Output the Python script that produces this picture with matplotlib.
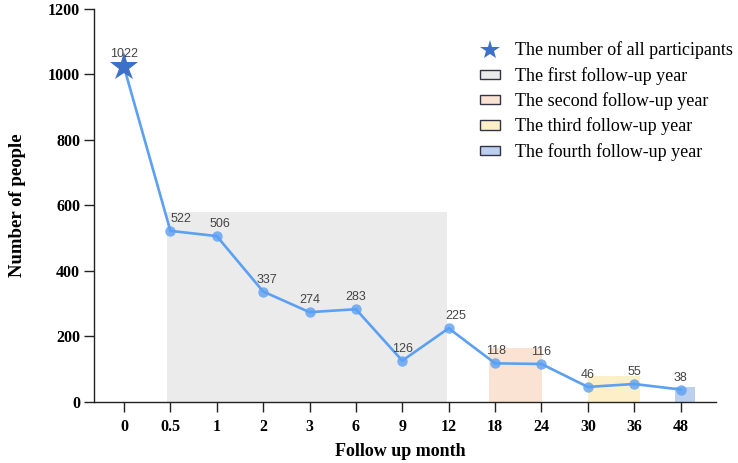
import matplotlib
matplotlib.use("Agg")
import matplotlib.pyplot as plt
from matplotlib.patches import Patch
from matplotlib.lines import Line2D

months = ["0", "0.5", "1", "2", "3", "6", "9", "12", "18", "24", "30", "36", "48"]
people = [1022, 522, 506, 337, 274, 283, 126, 225, 118, 116, 46, 55, 38]
label_dx = [0, 11, 3, 4, 0, 0, 0, 7, 1, 0, 0, 0, 0]

year_names = ["The first follow-up year", "The second follow-up year",
              "The third follow-up year", "The fourth follow-up year"]
year_start = [0.93, 7.87, 10.0, 11.87]
year_end = [6.96, 9.02, 11.12, 12.32]
year_height = [580, 165, 78, 46]
year_colors = ["#ebebeb", "#fbe3d4", "#fdf0c8", "#bccfee"]

serif = ["Liberation Serif", "DejaVu Serif"]
sans = ["Liberation Sans", "DejaVu Sans"]

fig = plt.figure(figsize=(7.38, 4.63), dpi=100)
ax = fig.add_axes([0.1274, 0.1317, 0.8426, 0.8499])

for s, e, h, c in zip(year_start, year_end, year_height, year_colors):
    ax.bar((s + e) / 2, h, width=e - s, color=c, zorder=1, linewidth=0)

x = list(range(len(months)))
ax.plot(x, people, color="#5ba0f2", linewidth=1.9, zorder=3)
ax.plot(x[1:], people[1:], "o", color="#5ba0f2", alpha=0.8, markersize=7.5,
        markeredgewidth=0, zorder=4)
ax.plot(x[0], people[0], "*", color="#3d70c9", markersize=21, zorder=5,
        markeredgewidth=0)

for i, (xi, v) in enumerate(zip(x, people)):
    dy = 7 if i == 0 else 6
    ax.annotate(str(v), (xi, v), xytext=(label_dx[i], dy), textcoords="offset pixels",
                ha="center", va="bottom", fontsize=9, color="#444444",
                family=sans, zorder=6)

ax.set_xlim(-0.646, 12.76)
ax.set_ylim(0, 1200)
ax.set_xticks(x)
ax.set_xticklabels(months)
ax.set_yticks([0, 200, 400, 600, 800, 1000, 1200])
for lab in ax.get_xticklabels() + ax.get_yticklabels():
    lab.set_family(serif)
    lab.set_fontweight("bold")
    lab.set_fontsize(11.5)
ax.tick_params(axis="both", direction="out", length=7, width=1, color="#222222")
ax.tick_params(axis="x", pad=5)
ax.tick_params(axis="y", pad=3)
for sp in ["top", "right"]:
    ax.spines[sp].set_visible(False)
for sp in ["left", "bottom"]:
    ax.spines[sp].set_color("#222222")
    ax.spines[sp].set_linewidth(1)

ax.set_xlabel("Follow up month", family=serif, fontweight="bold", fontsize=13, labelpad=7)
ax.xaxis.set_label_coords(0.492, -0.105)
ax.set_ylabel("Number of people", family=serif, fontweight="bold", fontsize=13.5, labelpad=10)
ax.yaxis.set_label_coords(-0.11, 0.5)

handles = [Line2D([], [], marker="*", linestyle="none", color="#3d70c9", markersize=15,
                  markeredgewidth=0)]
for c in year_colors:
    handles.append(Patch(facecolor=c, edgecolor="#333344", linewidth=1))
leg = fig.legend(handles, ["The number of all participants"] + year_names,
                 loc="upper left", bbox_to_anchor=(0.650, 0.911), frameon=False,
                 prop={"family": serif, "size": 13}, handlelength=1.1, handleheight=0.4,
                 labelspacing=0.42, handletextpad=0.85, borderpad=0, borderaxespad=0)

fig.savefig("out.png", dpi=100)
